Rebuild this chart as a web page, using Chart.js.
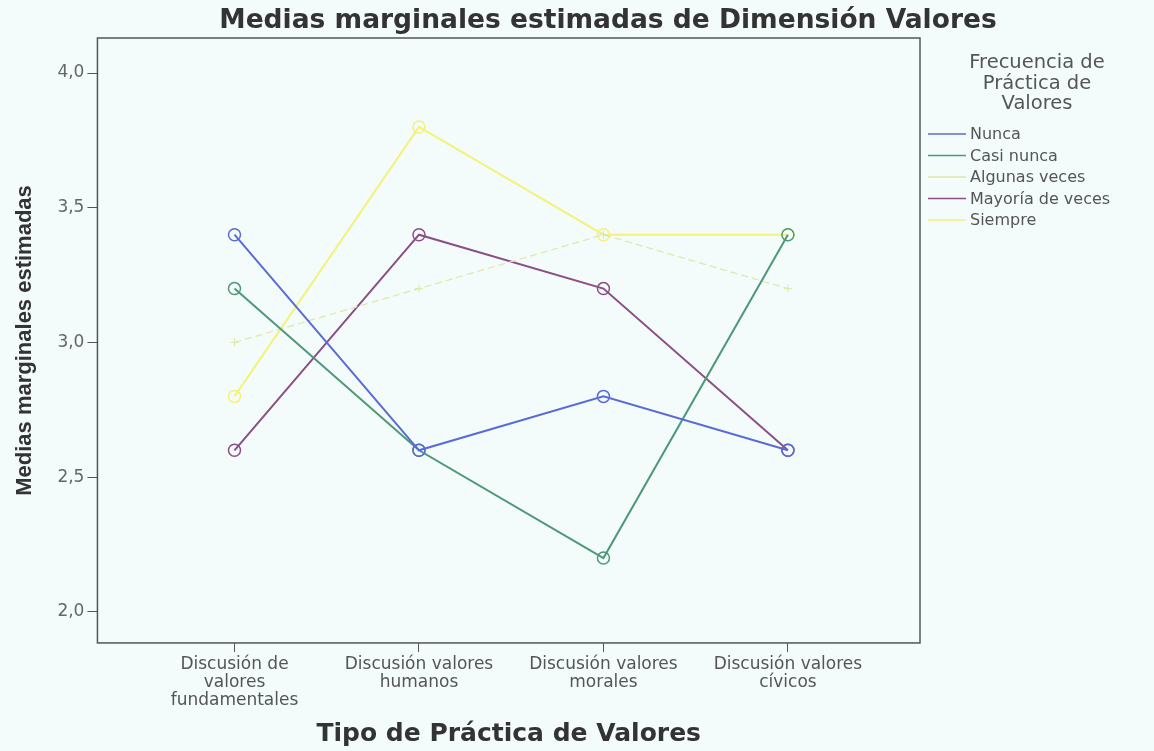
<!DOCTYPE html>
<html>
<head>
<meta charset="utf-8">
<script src="https://cdn.jsdelivr.net/npm/chart.js@4"></script>
<style>
  html, body { margin: 0; padding: 0; background: #f3fbfb; }
  #wrap { width: 1154px; height: 751px; position: relative; }
</style>
</head>
<body>
<div id="wrap"><canvas id="myChart" width="1154" height="751"></canvas></div>
<script>
const ctx = document.getElementById('myChart');

// categories on the x axis (multi-line labels)
const categories = [
  ['Discusión de', 'valores', 'fundamentales'],
  ['Discusión valores', 'humanos'],
  ['Discusión valores', 'morales'],
  ['Discusión valores', 'cívicos']
];

// series names and values
const seriesNames = ['Nunca', 'Casi nunca', 'Algunas veces', 'Mayoría de veces', 'Siempre'];
const nunca = [3.4, 2.6, 2.8, 2.6];
const casiNunca = [3.2, 2.6, 2.2, 3.4];
const algunasVeces = [3.0, 3.2, 3.4, 3.2];
const mayoriaVeces = [2.6, 3.4, 3.2, 2.6];
const siempre = [2.8, 3.8, 3.4, 3.4];

const yTicks = [2.0, 2.5, 3.0, 3.5, 4.0];

const chartTitle = 'Medias marginales estimadas de Dimensión Valores';
const legendTitle = ['Frecuencia de', 'Práctica de', 'Valores'];

const colors = ['#5b6bd6', '#4e9878', '#dfe7a6', '#8b4f86', '#f4f27a'];
const FONT = '"DejaVu Sans", Arial, sans-serif';

// x is linear so the margins left and right of the points match the picture
function toPoints(arr) {
  return arr.map((v, i) => ({ x: i, y: v }));
}

const seriesValues = [nunca, casiNunca, algunasVeces, mayoriaVeces, siempre];

const datasets = seriesValues.map((vals, i) => {
  const ds = {
    label: seriesNames[i],
    data: toPoints(vals),
    borderColor: colors[i],
    backgroundColor: 'rgba(0,0,0,0)',
    borderWidth: 2,
    pointStyle: 'circle',
    pointRadius: 6,
    pointBorderWidth: 1.5,
    pointBorderColor: colors[i],
    pointBackgroundColor: 'rgba(0,0,0,0)',
    tension: 0
  };
  if (seriesNames[i] === 'Algunas veces') {
    ds.borderWidth = 1.2;
    ds.borderDash = [7, 4];
    ds.pointStyle = 'cross';
    ds.pointRadius = 4;
    ds.pointBorderWidth = 1;
  }
  return ds;
});

// frame round the plot area + main title (it sits off-centre in the picture)
const framePlugin = {
  id: 'frame',
  afterDraw(chart) {
    const a = chart.chartArea;
    const c = chart.ctx;
    c.save();
    c.strokeStyle = '#555';
    c.lineWidth = 1.5;
    c.strokeRect(a.left, a.top, a.right - a.left, a.bottom - a.top);
    c.fillStyle = '#333';
    c.textAlign = 'center';
    c.textBaseline = 'middle';
    c.font = 'bold 26.5px ' + FONT;
    c.fillText(chartTitle, 608, 21);
    c.restore();
  }
};

// legend on the right with a wrapped title, like SPSS
const sideLegend = {
  id: 'sideLegend',
  afterDraw(chart) {
    const c = chart.ctx;
    const a = chart.chartArea;
    const cx = 1037;
    c.save();
    c.fillStyle = '#555';
    c.textAlign = 'center';
    c.textBaseline = 'middle';
    c.font = '19.5px ' + FONT;
    legendTitle.forEach((t, i) => {
      c.fillText(t, cx, 63 + i * 20.5);
    });
    c.textAlign = 'left';
    c.font = '16px ' + FONT;
    seriesNames.forEach((name, i) => {
      const y = 134 + i * 21.5;
      c.strokeStyle = colors[i];
      c.lineWidth = 1.5;
      c.beginPath();
      c.moveTo(a.right + 8, y);
      c.lineTo(a.right + 46, y);
      c.stroke();
      c.fillStyle = '#555';
      c.fillText(name, a.right + 50, y + 1);
    });
    c.restore();
  }
};

new Chart(ctx, {
  type: 'line',
  data: { datasets: datasets },
  options: {
    responsive: false,
    animation: false,
    layout: {
      padding: { top: 38, right: 234, bottom: 2, left: 12 }
    },
    scales: {
      x: {
        type: 'linear',
        min: -0.743,
        max: 3.716,
        afterBuildTicks(axis) {
          axis.ticks = categories.map((c, i) => ({ value: i }));
        },
        grid: { display: true, drawOnChartArea: false, drawTicks: true, tickLength: 9, color: '#555' },
        border: { display: false },
        ticks: {
          color: '#555',
          font: { size: 17, family: FONT, lineHeight: 1.06 },
          maxRotation: 0,
          autoSkip: false,
          padding: 4,
          callback: (v) => categories[v]
        },
        title: {
          display: true,
          text: 'Tipo de Práctica de Valores',
          color: '#333',
          font: { size: 25, weight: 'bold', family: FONT },
          padding: { top: 5, bottom: 0 }
        }
      },
      y: {
        min: 1.885,
        max: 4.13,
        afterBuildTicks(axis) {
          axis.ticks = yTicks.map(v => ({ value: v }));
        },
        grid: { display: true, drawOnChartArea: false, drawTicks: true, tickLength: 10, color: '#555' },
        border: { display: false },
        ticks: {
          color: '#666',
          font: { size: 17, family: FONT },
          padding: 3,
          callback: (v) => v.toFixed(1).replace('.', ',')
        },
        title: {
          display: true,
          text: 'Medias marginales estimadas',
          color: '#333',
          font: { size: 22, weight: 'bold', family: '"Liberation Sans", Arial, sans-serif' },
          padding: { top: 0, bottom: 16 }
        }
      }
    },
    plugins: {
      legend: { display: false },
      tooltip: { enabled: false },
      title: { display: false }
    }
  },
  plugins: [framePlugin, sideLegend]
});
</script>
</body>
</html>
